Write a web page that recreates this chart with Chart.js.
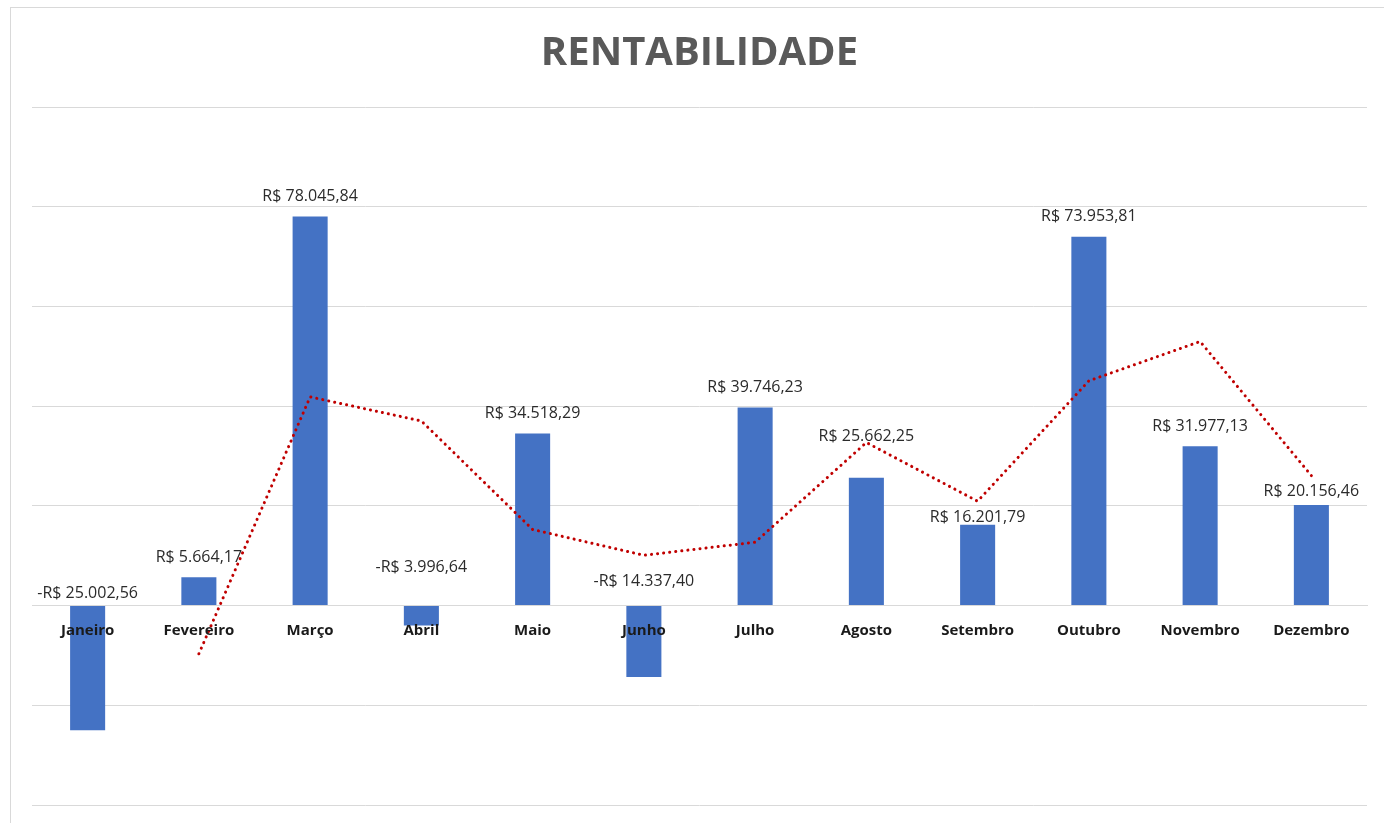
<!DOCTYPE html>
<html>
<head>
<meta charset="utf-8">
<script src="https://cdn.jsdelivr.net/npm/chart.js@4.4.1/dist/chart.umd.min.js"></script>
<style>
  body { margin: 0; background: #fff; }
  #wrap { width: 1384px; height: 823px; }
</style>
</head>
<body>
<div id="wrap"><canvas id="rentChart" width="1384" height="823"></canvas></div>
<script>
const months = ['Janeiro', 'Fevereiro', 'Março', 'Abril', 'Maio', 'Junho', 'Julho', 'Agosto', 'Setembro', 'Outubro', 'Novembro', 'Dezembro'];
const rentabilidade = [-25002.56, 5664.17, 78045.84, -3996.64, 34518.29, -14337.40, 39746.23, 25662.25, 16201.79, 73953.81, 31977.13, 20156.46];
// moving average trendline (2 periods)
const mediaMovel = [null, -9669, 41855, 37025, 15261, 10090, 12704, 32704, 20932, 45078, 52965, 26067];
const yTicks = { min: -40000, max: 100000, step: 20000 };

// small nudges for labels that were moved by hand in the original
const labelShift = [8, 0, 0, -18, 0, -4, 0, -21, 13, 0, 0, 6];

function brl(v) {
  const abs = Math.abs(v).toFixed(2).split('.');
  const int = abs[0].replace(/\B(?=(\d{3})+(?!\d))/g, '.');
  return (v < 0 ? '-' : '') + 'R$ ' + int + ',' + abs[1];
}

const framePlugin = {
  id: 'frame',
  beforeDraw(chart) {
    const ctx = chart.ctx;
    ctx.save();
    ctx.strokeStyle = '#d9d9d9';
    ctx.lineWidth = 1;
    ctx.strokeRect(10.5, 7.5, 1400, 900);
    ctx.restore();
  },
};

const valueLabels = {
  id: 'valueLabels',
  afterDatasetsDraw(chart) {
    const ctx = chart.ctx;
    const meta = chart.getDatasetMeta(1); // the bar dataset
    const zero = chart.scales.y.getPixelForValue(0);
    ctx.save();
    ctx.font = '16px "Open Sans"';
    ctx.fillStyle = '#2b2b2b';
    ctx.textAlign = 'center';
    ctx.textBaseline = 'middle';
    meta.data.forEach((bar, i) => {
      const v = rentabilidade[i];
      const top = v >= 0 ? bar.y : zero;
      ctx.fillText(brl(v), bar.x, top - 20 + labelShift[i]);
    });
    ctx.restore();
  },
};

const ctx = document.getElementById('rentChart').getContext('2d');
new Chart(ctx, {
  data: {
    labels: months,
    datasets: [
      {
        type: 'line',
        label: 'Média móvel',
        data: mediaMovel,
        borderColor: '#c00000',
        borderWidth: 3,
        borderDash: [0.1, 6],
        borderCapStyle: 'round',
        pointRadius: 0,
        tension: 0,
        fill: false,
        order: 0,
      },
      {
        type: 'bar',
        label: 'Rentabilidade',
        data: rentabilidade,
        backgroundColor: '#4472c4',
        barPercentage: 0.315,
        categoryPercentage: 1,
        order: 1,
      },
    ],
  },
  options: {
    responsive: false,
    animation: false,
    layout: {
      padding: { left: 32, right: 17, top: 0, bottom: 18 },
    },
    scales: {
      x: {
        position: { y: 0 },
        grid: { display: false },
        border: { color: '#d9d9d9' },
        ticks: {
          z: 1,
          color: '#1a1a1a',
          padding: 8,
          font: { family: 'Open Sans', size: 15, weight: 'bold' },
          maxRotation: 0,
        },
      },
      y: {
        min: yTicks.min,
        max: yTicks.max,
        border: { display: false },
        grid: { color: '#d9d9d9', drawTicks: false },
        ticks: { display: false, stepSize: yTicks.step },
      },
    },
    plugins: {
      legend: { display: false },
      tooltip: { enabled: false },
      title: {
        display: true,
        text: 'RENTABILIDADE',
        color: '#595959',
        font: { family: 'Open Sans', size: 40, weight: 'bold', lineHeight: 1.2 },
        padding: { top: 30, bottom: 29 },
      },
    },
  },
  plugins: [framePlugin, valueLabels],
});
</script>
</body>
</html>
